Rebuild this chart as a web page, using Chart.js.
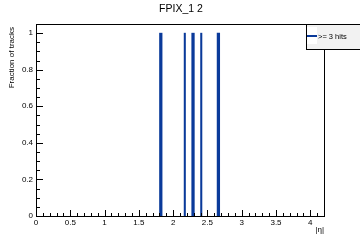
<!DOCTYPE html>
<html>
<head>
<meta charset="utf-8">
<script src="https://cdn.jsdelivr.net/npm/chart.js@4/dist/chart.umd.min.js"></script>
<style>
  html, body { margin: 0; padding: 0; background: #fff; }
  #wrap { width: 360px; height: 240px; position: relative; }
</style>
</head>
<body>
<div id="wrap"><canvas id="myChart" width="360" height="240"></canvas></div>
<script>
// data
const chartTitle = 'FPIX_1 2';
const seriesLabel = '>= 3 hits';
const etaThick = [1.82, 2.29, 2.66];
const fracThick = [1, 1, 1];
const etaThin = [2.17, 2.41];
const fracThin = [1, 1];
const xTickStep = 0.5;
const yTickStep = 0.2;

const blue = '#0a3a9a';
const fontName = '"Liberation Sans", Arial, sans-serif';

function toPoints(xs, ys) {
    return xs.map((x, i) => ({ x: x, y: ys[i] }));
}

// ROOT style frame + inward ticks, titles and legend box
const rootStyle = {
    id: 'rootStyle',
    afterDraw(chart) {
        const ctx = chart.ctx;
        const a = chart.chartArea;
        const xs = chart.scales.x;
        const ys = chart.scales.y;
        ctx.save();
        ctx.strokeStyle = '#000';
        ctx.lineWidth = 1;
        ctx.strokeRect(Math.round(a.left) + 0.5, Math.round(a.top) + 0.5,
            Math.round(a.right - a.left), Math.round(a.bottom - a.top));

        ctx.beginPath();
        // x ticks: major every 0.5, minor every 0.1
        for (let i = 0; i <= 42; i++) {
            const v = i / 10;
            const px = Math.round(xs.getPixelForValue(v)) + 0.5;
            const len = (i % 5 === 0) ? 6 : 3;
            ctx.moveTo(px, a.bottom);
            ctx.lineTo(px, a.bottom - len);
        }
        // y ticks: major every 0.2, minor every 0.05
        for (let i = 0; i <= 21; i++) {
            const v = i / 20;
            const py = Math.round(ys.getPixelForValue(v)) + 0.5;
            const len = (i % 4 === 0) ? 7 : 4;
            ctx.moveTo(a.left, py);
            ctx.lineTo(a.left + len, py);
        }
        ctx.stroke();

        // title
        ctx.fillStyle = '#000';
        ctx.font = '10.5px ' + fontName;
        ctx.textAlign = 'center';
        ctx.textBaseline = 'middle';
        ctx.fillText(chartTitle, 181, 9);

        // axis titles
        ctx.font = '8px ' + fontName;
        ctx.textAlign = 'right';
        ctx.fillText('|\u03b7|', 324, 230);
        ctx.save();
        ctx.translate(12, 27);
        ctx.rotate(-Math.PI / 2);
        ctx.textAlign = 'right';
        ctx.fillText('Fraction of tracks', 0, 0);
        ctx.restore();

        // legend box
        ctx.fillStyle = '#f2f2f2';
        ctx.fillRect(306, 24, 60, 25);
        ctx.strokeRect(306.5, 24.5, 60, 25);
        ctx.fillStyle = '#fff';
        ctx.fillRect(307, 27, 10, 17);
        ctx.strokeStyle = blue;
        ctx.lineWidth = 2;
        ctx.beginPath();
        ctx.moveTo(307, 36);
        ctx.lineTo(317, 36);
        ctx.stroke();
        ctx.fillStyle = '#000';
        ctx.font = '7.5px ' + fontName;
        ctx.textAlign = 'left';
        ctx.fillText(chart.data.datasets[0].label, 318, 36.5);
        ctx.restore();
    }
};

const ctx = document.getElementById('myChart').getContext('2d');
new Chart(ctx, {
    type: 'bar',
    data: {
        datasets: [{
            label: seriesLabel,
            data: toPoints(etaThick, fracThick),
            backgroundColor: blue,
            barThickness: 2.6
        }, {
            label: seriesLabel,
            data: toPoints(etaThin, fracThin),
            backgroundColor: blue,
            barThickness: 1.4
        }]
    },
    options: {
        responsive: false,
        animation: false,
        layout: { padding: { top: 24, right: 36, left: 0, bottom: 0 } },
        datasets: { bar: { grouped: false } },
        plugins: {
            legend: { display: false },
            title: { display: false },
            tooltip: { enabled: false }
        },
        scales: {
            x: {
                type: 'linear',
                min: 0,
                max: 4.2,
                offset: false,
                grid: { display: false, drawTicks: false },
                border: { display: false },
                ticks: {
                    stepSize: xTickStep,
                    includeBounds: false,
                    padding: 2,
                    color: '#000',
                    font: { family: fontName, size: 8 },
                    maxRotation: 0,
                    autoSkip: false,
                    callback: v => String(Math.round(v * 10) / 10)
                },
                afterFit: s => { s.height = 24; }
            },
            y: {
                min: 0,
                max: 1.05,
                grid: { display: false, drawTicks: false },
                border: { display: false },
                ticks: {
                    stepSize: yTickStep,
                    includeBounds: false,
                    padding: 3,
                    color: '#000',
                    font: { family: fontName, size: 8 },
                    callback: v => String(Math.round(v * 10) / 10)
                },
                afterFit: s => { s.width = 36; }
            }
        }
    },
    plugins: [rootStyle]
});
</script>
</body>
</html>
